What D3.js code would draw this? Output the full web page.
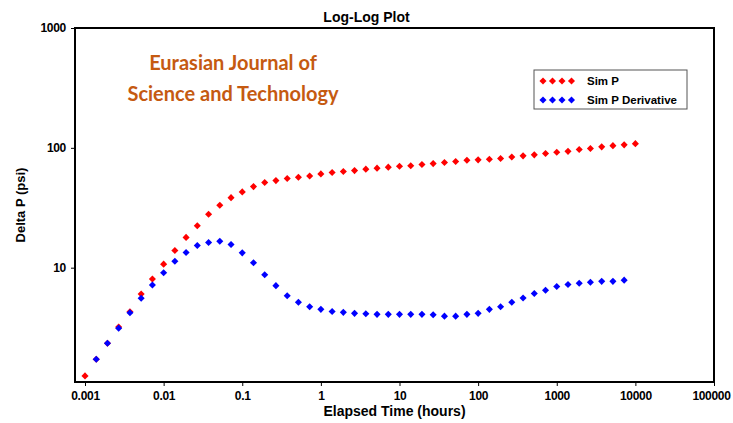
<!DOCTYPE html>
<html>
<head>
<meta charset="utf-8">
<script src="https://cdn.jsdelivr.net/npm/d3@7"></script>
<style>
    body { margin: 0; background: #fff; }
    svg { display: block; font-family: "Liberation Sans", Arial, sans-serif; }
    .axis text { font-size: 12px; font-weight: bold; fill: #000; letter-spacing: -0.3px; }
    .axis line { stroke: #000; }
    .axis path { display: none; }
</style>
</head>
<body>
<div id="chart"></div>
<script>
// elapsed time (hours), 7 samples per log decade
const times = [0.001, 0.00139, 0.00193, 0.00268, 0.00373, 0.00518, 0.0072,
    0.01, 0.0139, 0.0193, 0.0268, 0.0373, 0.0518, 0.072,
    0.1, 0.139, 0.193, 0.268, 0.373, 0.518, 0.72,
    1, 1.39, 1.93, 2.68, 3.73, 5.18, 7.2,
    10, 13.9, 19.3, 26.8, 37.3, 51.8, 72,
    100, 139, 193, 268, 373, 518, 720,
    1000, 1390, 1930, 2680, 3730, 5180, 7200, 10000]

// delta P (psi)
const simP = [1.25, 1.72, 2.34, 3.2, 4.29, 6.03, 8.05,
    10.7, 13.9, 17.9, 22.4, 27.9, 33.2, 38.4,
    42.9, 47.5, 51.3, 53.3, 55.4, 56.9, 58.3,
    60.6, 62.2, 63.4, 64.6, 66.4, 67.7, 69.0,
    70.3, 70.8, 72.5, 73.9, 75.4, 76.8, 78.7,
    79.4, 80.2, 81.5, 83.8, 85.7, 87.4, 89.6,
    92.0, 93.5, 96.8, 98.7, 101.9, 104.3, 105.9, 108.4]

// derivative has no value at first and last time
const simPDerivative = [null, 1.72, 2.34, 3.13, 4.21, 5.55, 7.17,
    9.08, 11.3, 13.4, 15.3, 16.2, 16.6, 15.6,
    13.3, 11.0, 8.74, 7.08, 5.84, 5.14, 4.72,
    4.49, 4.31, 4.24, 4.16, 4.13, 4.08, 4.08,
    4.08, 4.08, 4.08, 4.05, 3.94, 3.94, 4.08,
    4.16, 4.49, 4.72, 5.14, 5.58, 6.09, 6.49,
    6.97, 7.24, 7.41, 7.55, 7.69, 7.69, 7.87, null]

const xTicks = [0.001, 0.01, 0.1, 1, 10, 100, 1000, 10000, 100000]
const xTickLabels = ['0.001', '0.01', '0.1', '1', '10', '100', '1000', '10000', '100000']
const yTicks = [10, 100, 1000]
const yTickLabels = ['10', '100', '1000']

const seriesNames = ['Sim P', 'Sim P Derivative']
const seriesColors = ['#ff0000', '#0000ff']

function logLogChart() {
    let margin = {
            top: 28,
            left: 75,
            right: 19,
            bottom: 41
        },
        fullWidth = 733,
        fullHeight = 423,
        width = fullWidth - margin.left - margin.right,
        height = fullHeight - margin.top - margin.bottom,
        title = 'Log-Log Plot'

    function chart(selector) {
        let svg = d3.select(selector)
            .append('svg')
            .attr('width', fullWidth)
            .attr('height', fullHeight)

        // x: 0.001 sits 10px in from the left edge of the frame
        let xScale = d3.scaleLog()
            .domain([0.000746, 100000])
            .range([margin.left, margin.left + width])

        let yScale = d3.scaleLog()
            .domain([1.112, 1000])
            .range([margin.top + height, margin.top])

        // axes
        let xAxis = svg.append('g')
            .attr('class', 'axis')
            .attr('transform', `translate(0,${margin.top + height})`)
            .call(d3.axisBottom(xScale)
                .tickValues(xTicks)
                .tickFormat((d, i) => xTickLabels[i])
                .tickSize(4)
                .tickPadding(5))
        // keep the last label inside the page
        xAxis.selectAll('.tick:last-of-type text').attr('dx', -3)

        svg.append('g')
            .attr('class', 'axis')
            .attr('transform', `translate(${margin.left},0)`)
            .call(d3.axisLeft(yScale)
                .tickValues(yTicks)
                .tickFormat((d, i) => yTickLabels[i])
                .tickSize(4)
                .tickPadding(5))

        // frame
        svg.append('rect')
            .attr('x', margin.left)
            .attr('y', margin.top)
            .attr('width', width)
            .attr('height', height)
            .attr('fill', 'none')
            .attr('stroke', '#000')
            .attr('stroke-width', 2)

        // titles
        svg.append('text')
            .attr('x', fullWidth / 2)
            .attr('y', 22)
            .attr('text-anchor', 'middle')
            .style('font-size', '14px')
            .style('font-weight', 'bold')
            .text(title)

        svg.append('text')
            .attr('x', margin.left + width / 2)
            .attr('y', 416)
            .attr('text-anchor', 'middle')
            .style('font-size', '14px')
            .style('font-weight', 'bold')
            .text('Elapsed Time (hours)')

        svg.append('text')
            .attr('transform', 'translate(25,205) rotate(-90)')
            .attr('text-anchor', 'middle')
            .style('font-size', '13px')
            .style('font-weight', 'bold')
            .text('Delta P (psi)')

        // journal stamp
        let stamp = svg.append('g')
            .attr('fill', '#c55a11')
            .style('font-family', 'Lato, "Open Sans", sans-serif')
            .style('font-weight', 'bold')
            .style('font-size', '20px')
            .attr('text-anchor', 'middle')
        stamp.append('text').attr('x', 233).attr('y', 70).text('Eurasian Journal of')
        stamp.append('text').attr('x', 233).attr('y', 101).text('Science and Technology')

        // points
        let diamond = d3.symbol().type(d3.symbolDiamond2).size(32)
        let series = [simP, simPDerivative]

        series.forEach((values, s) => {
            let pts = times.map((t, i) => ({ t: t, v: values[i] }))
                .filter(d => d.v != null)
            svg.append('g')
                .selectAll('path')
                .data(pts).enter()
                .append('path')
                .attr('d', diamond)
                .attr('transform', d => `translate(${xScale(d.t)},${yScale(d.v)})`)
                .attr('fill', seriesColors[s])
        })

        // legend
        let legend = svg.append('g')
            .attr('transform', 'translate(534,70)')
        legend.append('rect')
            .attr('width', 153)
            .attr('height', 39)
            .attr('fill', '#fff')
            .attr('stroke', '#555')
            .attr('stroke-width', 1)

        seriesNames.forEach((name, s) => {
            let row = legend.append('g')
                .attr('transform', `translate(0,${11 + s * 19})`)
            row.selectAll('path')
                .data([0, 1, 2, 3]).enter()
                .append('path')
                .attr('d', diamond)
                .attr('transform', d => `translate(${9 + d * 9.5},0)`)
                .attr('fill', seriesColors[s])
            row.append('text')
                .attr('x', 53)
                .attr('y', 4)
                .style('font-size', '11.5px')
                .style('font-weight', 'bold')
                .text(name)
        })

        return chart
    }

    return chart
}

logLogChart()('#chart')
</script>
</body>
</html>
